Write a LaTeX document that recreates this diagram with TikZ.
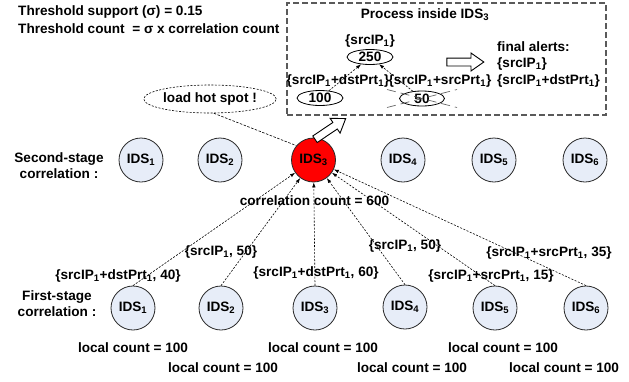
\documentclass[tikz,border=0pt]{standalone}
\usepackage{fontspec}
\setmainfont{Liberation Sans}
\usetikzlibrary{shapes.geometric,shapes.arrows,arrows.meta}
\newcommand\idx[1]{\textsubscript{#1}}
\definecolor{idsfill}{RGB}{231,237,248}
\definecolor{ringcol}{RGB}{40,40,40}
\definecolor{boxgray}{RGB}{90,90,90}
\tikzset{
  every node/.style={font=\fontsize{13.6}{16.5}\selectfont\bfseries, inner sep=0pt},
  ids/.style={circle, draw=ringcol, line width=0.8pt, fill=idsfill, minimum size=44pt},
  hotids/.style={ids, fill=red},
  lnk/.style={line width=0.6pt, dash pattern=on 2pt off 1.5pt, -{Latex[length=5pt,width=3.5pt]}},
  plainlnk/.style={line width=0.6pt, dash pattern=on 2.5pt off 1.5pt},
  cnt/.style={ellipse, draw, line width=0.8pt, fill=white, minimum width=46pt, minimum height=15pt},
  hollow/.style={single arrow, draw, line width=0.9pt, fill=white, inner sep=3.5pt,
    single arrow head extend=5pt, single arrow tip angle=70},
  xline/.style={line width=0.7pt, draw=black!60, dash pattern=on 9pt off 5pt},
}
\begin{document}
\begin{tikzpicture}[x=1pt, y=-1pt]
\useasboundingbox (0,0) rectangle (629,381);

% thresholds
\node[anchor=west] (th1) at (18,12) {Threshold support (σ) = 0.15};
\node[anchor=west] (th2) at (18,28.5) {Threshold count\ \ = σ x correlation count};

% process box
\node[draw=boxgray, line width=1.1pt, dash pattern=on 6pt off 3pt,
      minimum width=319pt, minimum height=112pt] (proc) at (446.5,59) {};
\node (ptitle) at (425,15) {Process inside IDS\idx{3}};
\node (lab250) at (370,41) {\{srcIP\idx{1}\}};
\node[cnt] (e250) at (370,57) {250};
\node (labdst) at (338,81) {\{srcIP\idx{1}+dstPrt\idx{1}\}};
\node (labsrc) at (440,81) {\{srcIP\idx{1}+srcPrt\idx{1}\}};
\node[cnt] (e100) at (320,98) {100};
\node[cnt, minimum width=45pt] (e50) at (422,98.5) {50};
\draw[lnk] (e100) -- (e250);
\draw[lnk] (e50) -- (e250);
\draw[xline] ([shift={(-35,-9)}]e50.center) -- ([shift={(35,9)}]e50.center);
\draw[xline] ([shift={(-35,9)}]e50.center) -- ([shift={(35,-9)}]e50.center);
\node[hollow, minimum height=37pt] (toalert) at (462.5,62) {};
\node[anchor=west, align=left] (alerts) at (497,64)
  {final alerts:\\\{srcIP\idx{1}\}\\\{srcIP\idx{1}+dstPrt\idx{1}\}};

% hot spot note
\node[ellipse, draw, line width=0.6pt, dash pattern=on 2pt off 1.5pt,
      minimum width=126pt, minimum height=28pt] (hot) at (210,99) {load hot spot !};

% second-stage correlation
\node[align=center] (row2) at (59,165.5) {Second-stage\\correlation :};
\node[ids] (s1) at (141,160) {IDS\idx{1}};
\node[ids] (s2) at (220,160) {IDS\idx{2}};
\node[hotids] (s3) at (313.5,160) {IDS\idx{3}};
\node[ids] (s4) at (403,160) {IDS\idx{4}};
\node[ids] (s5) at (494,160) {IDS\idx{5}};
\node[ids] (s6) at (585,160) {IDS\idx{6}};

\draw[plainlnk] (hot.-75) -- (s3.140);
\node[hollow, minimum height=37pt, rotate=34] (tobox) at (328,130.5) {};
\node (corr) at (314.5,201) {correlation count = 600};

% first-stage correlation
\node[align=center] (row1) at (57,303.5) {First-stage\\correlation :};
\node[ids] (f1) at (133,308) {IDS\idx{1}};
\node[ids] (f2) at (221,308) {IDS\idx{2}};
\node[ids] (f3) at (315,308) {IDS\idx{3}};
\node[ids] (f4) at (405,307) {IDS\idx{4}};
\node[ids] (f5) at (495,308) {IDS\idx{5}};
\node[ids] (f6) at (586,308) {IDS\idx{6}};

\draw[lnk] (f1.north) -- (s3);
\draw[lnk] (f2.north) -- (s3);
\draw[lnk] (f3.north) -- (s3);
\draw[lnk] (f4.north) -- (s3);
\draw[lnk] (f5.north) -- (s3);
\draw[lnk] (f6.north) -- (s3);

\node (m1) at (118,276) {\{srcIP\idx{1}+dstPrt\idx{1}, 40\}};
\node (m2) at (221,252) {\{srcIP\idx{1}, 50\}};
\node (m3) at (316,273) {\{srcIP\idx{1}+dstPrt\idx{1}, 60\}};
\node (m4) at (405,246) {\{srcIP\idx{1}, 50\}};
\node (m5) at (491,276) {\{srcIP\idx{1}+srcPrt\idx{1}, 15\}};
\node (m6) at (549,253) {\{srcIP\idx{1}+srcPrt\idx{1}, 35\}};

\node (c1) at (133,348) {local count = 100};
\node (c2) at (223,368) {local count = 100};
\node (c3) at (323,348) {local count = 100};
\node (c4) at (412,368) {local count = 100};
\node (c5) at (503,348) {local count = 100};
\node (c6) at (564,368) {local count = 100};
\end{tikzpicture}
\end{document}
